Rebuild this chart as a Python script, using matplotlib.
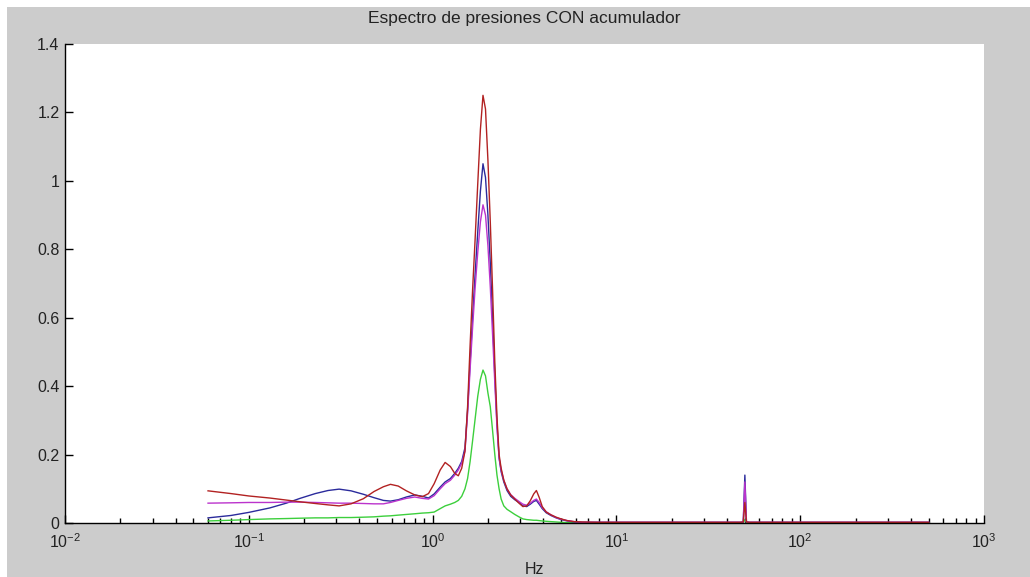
import matplotlib
matplotlib.use("Agg")
import matplotlib.pyplot as plt
from matplotlib.patches import Rectangle
from matplotlib.ticker import LogLocator, FuncFormatter

plt.rcParams['font.family'] = ['Liberation Sans', 'DejaVu Sans']
plt.rcParams['mathtext.fontset'] = 'custom'
plt.rcParams['mathtext.rm'] = 'Liberation Sans'
plt.rcParams['mathtext.it'] = 'Liberation Sans:italic'

# frequency grid (Hz) shared by all series
freq = [0.06, 0.08, 0.1, 0.13, 0.16, 0.19, 0.23, 0.27, 0.31, 0.36,
        0.42, 0.48, 0.54, 0.59, 0.65, 0.72, 0.8, 0.88, 0.95, 1.02,
        1.1, 1.17, 1.25, 1.32, 1.38, 1.44, 1.5, 1.55, 1.6, 1.65,
        1.7, 1.76, 1.82, 1.88, 1.94, 2.0, 2.06, 2.12, 2.18, 2.24,
        2.3, 2.36, 2.44, 2.54, 2.66, 2.8, 2.95, 3.1, 3.25, 3.4,
        3.55, 3.67, 3.8, 3.95, 4.15, 4.4, 4.7, 5.0, 5.4, 5.9,
        6.5, 8, 12, 20, 30, 40, 47, 49, 50, 51,
        53, 70, 100, 150, 250, 400, 500]

red = [0.094, 0.086, 0.079, 0.073, 0.067, 0.062, 0.057, 0.053, 0.050, 0.056,
       0.071, 0.092, 0.106, 0.113, 0.108, 0.094, 0.082, 0.077, 0.086, 0.115,
       0.155, 0.177, 0.165, 0.145, 0.138, 0.160, 0.21, 0.34, 0.52, 0.68,
       0.82, 0.99, 1.15, 1.25, 1.21, 1.06, 0.88, 0.68, 0.47, 0.31,
       0.20, 0.16, 0.125, 0.10, 0.082, 0.070, 0.058, 0.048, 0.050, 0.065,
       0.085, 0.095, 0.075, 0.048, 0.032, 0.024, 0.017, 0.012, 0.007, 0.004,
       0.003, 0.002, 0.002, 0.002, 0.002, 0.002, 0.002, 0.003, 0.06, 0.003,
       0.002, 0.002, 0.002, 0.002, 0.002, 0.002, 0.002]

blue = [0.015, 0.022, 0.031, 0.044, 0.058, 0.072, 0.086, 0.095, 0.099, 0.094,
        0.084, 0.074, 0.066, 0.064, 0.068, 0.076, 0.082, 0.078, 0.073, 0.085,
        0.105, 0.12, 0.13, 0.145, 0.16, 0.18, 0.22, 0.33, 0.47, 0.60,
        0.72, 0.85, 0.97, 1.05, 1.01, 0.90, 0.76, 0.60, 0.43, 0.29,
        0.19, 0.15, 0.12, 0.095, 0.078, 0.068, 0.060, 0.050, 0.048, 0.055,
        0.063, 0.066, 0.055, 0.042, 0.030, 0.022, 0.015, 0.010, 0.006, 0.003,
        0.002, 0.002, 0.002, 0.002, 0.002, 0.002, 0.002, 0.003, 0.14, 0.003,
        0.002, 0.002, 0.002, 0.002, 0.002, 0.002, 0.002]

magenta = [0.058, 0.059, 0.060, 0.060, 0.061, 0.061, 0.060, 0.059, 0.058, 0.058,
           0.057, 0.056, 0.056, 0.060, 0.066, 0.072, 0.076, 0.072, 0.070, 0.080,
           0.10, 0.115, 0.125, 0.14, 0.155, 0.175, 0.21, 0.32, 0.45, 0.57,
           0.68, 0.79, 0.88, 0.93, 0.90, 0.81, 0.69, 0.55, 0.41, 0.28,
           0.19, 0.155, 0.125, 0.10, 0.083, 0.072, 0.063, 0.055, 0.052, 0.058,
           0.066, 0.070, 0.060, 0.045, 0.033, 0.024, 0.016, 0.011, 0.007, 0.004,
           0.002, 0.002, 0.002, 0.002, 0.002, 0.002, 0.002, 0.003, 0.12, 0.003,
           0.002, 0.002, 0.002, 0.002, 0.002, 0.002, 0.002]

green = [0.006, 0.008, 0.010, 0.012, 0.013, 0.014, 0.015, 0.015, 0.016, 0.016,
         0.017, 0.018, 0.020, 0.021, 0.023, 0.025, 0.027, 0.029, 0.030, 0.032,
         0.042, 0.050, 0.055, 0.060, 0.066, 0.078, 0.10, 0.13, 0.18, 0.24,
         0.30, 0.37, 0.42, 0.447, 0.43, 0.38, 0.34, 0.27, 0.20, 0.14,
         0.10, 0.07, 0.05, 0.04, 0.033, 0.025, 0.018, 0.012, 0.010, 0.009,
         0.008, 0.008, 0.007, 0.006, 0.005, 0.004, 0.003, 0.002, 0.001, 0.001,
         0.001, 0.001, 0.001, 0.001, 0.001, 0.001, 0.001, 0.001, 0.01, 0.001,
         0.001, 0.001, 0.001, 0.001, 0.001, 0.001, 0.001]

yticks = [0, 0.2, 0.4, 0.6, 0.8, 1.0, 1.2, 1.4]

W, H = 1030, 577
fig = plt.figure(figsize=(W / 100, H / 100), dpi=100, facecolor='white')
# grey matlab-like window background, behind the axes
fig.patches.append(Rectangle((7 / W, 0), 1 - 7 / W, 1 - 7 / H, transform=fig.transFigure,
                             facecolor='#cccccc', edgecolor='none', zorder=-10))

ax = fig.add_axes([65 / W, 1 - 523 / H, (984 - 65) / W, (523 - 44) / H])
ax.set_zorder(1)
ax.set_facecolor('white')

ax.plot(freq, green, color='#3ccf3c', lw=1.0)
ax.plot(freq, blue, color='#2b2b9c', lw=1.0)
ax.plot(freq, magenta, color='#bb33cc', lw=1.0)
ax.plot(freq, red, color='#b22222', lw=1.0)

ax.set_xscale('log')
ax.set_xlim(1e-2, 1e3)
ax.set_ylim(0, 1.4)
ax.set_yticks(yticks)
ax.yaxis.set_major_formatter(FuncFormatter(lambda v, p: '%g' % v))
ax.xaxis.set_minor_locator(LogLocator(base=10, subs=range(2, 10), numticks=20))

for s in ['top', 'right']:
    ax.spines[s].set_visible(False)
for s in ['left', 'bottom']:
    ax.spines[s].set_color('black')
    ax.spines[s].set_linewidth(1.0)

ax.tick_params(which='major', direction='in', length=6, width=1, labelsize=11.5,
               colors='black', labelcolor='#222222')
ax.tick_params(which='minor', direction='in', length=3.5, width=1)
ax.tick_params(axis='x', pad=7)
ax.tick_params(axis='y', pad=4)

fig.text(0.5 * (65 + 984) / W, 1 - 19 / H, 'Espectro de presiones CON acumulador',
         ha='center', va='center', fontsize=12.5, color='#222222')
fig.text(0.5 * (65 + 984) / W + 10 / W, 1 - 569 / H, 'Hz',
         ha='center', va='center', fontsize=11.5, color='#222222')

fig.savefig('out.png', dpi=100, facecolor=fig.get_facecolor())
